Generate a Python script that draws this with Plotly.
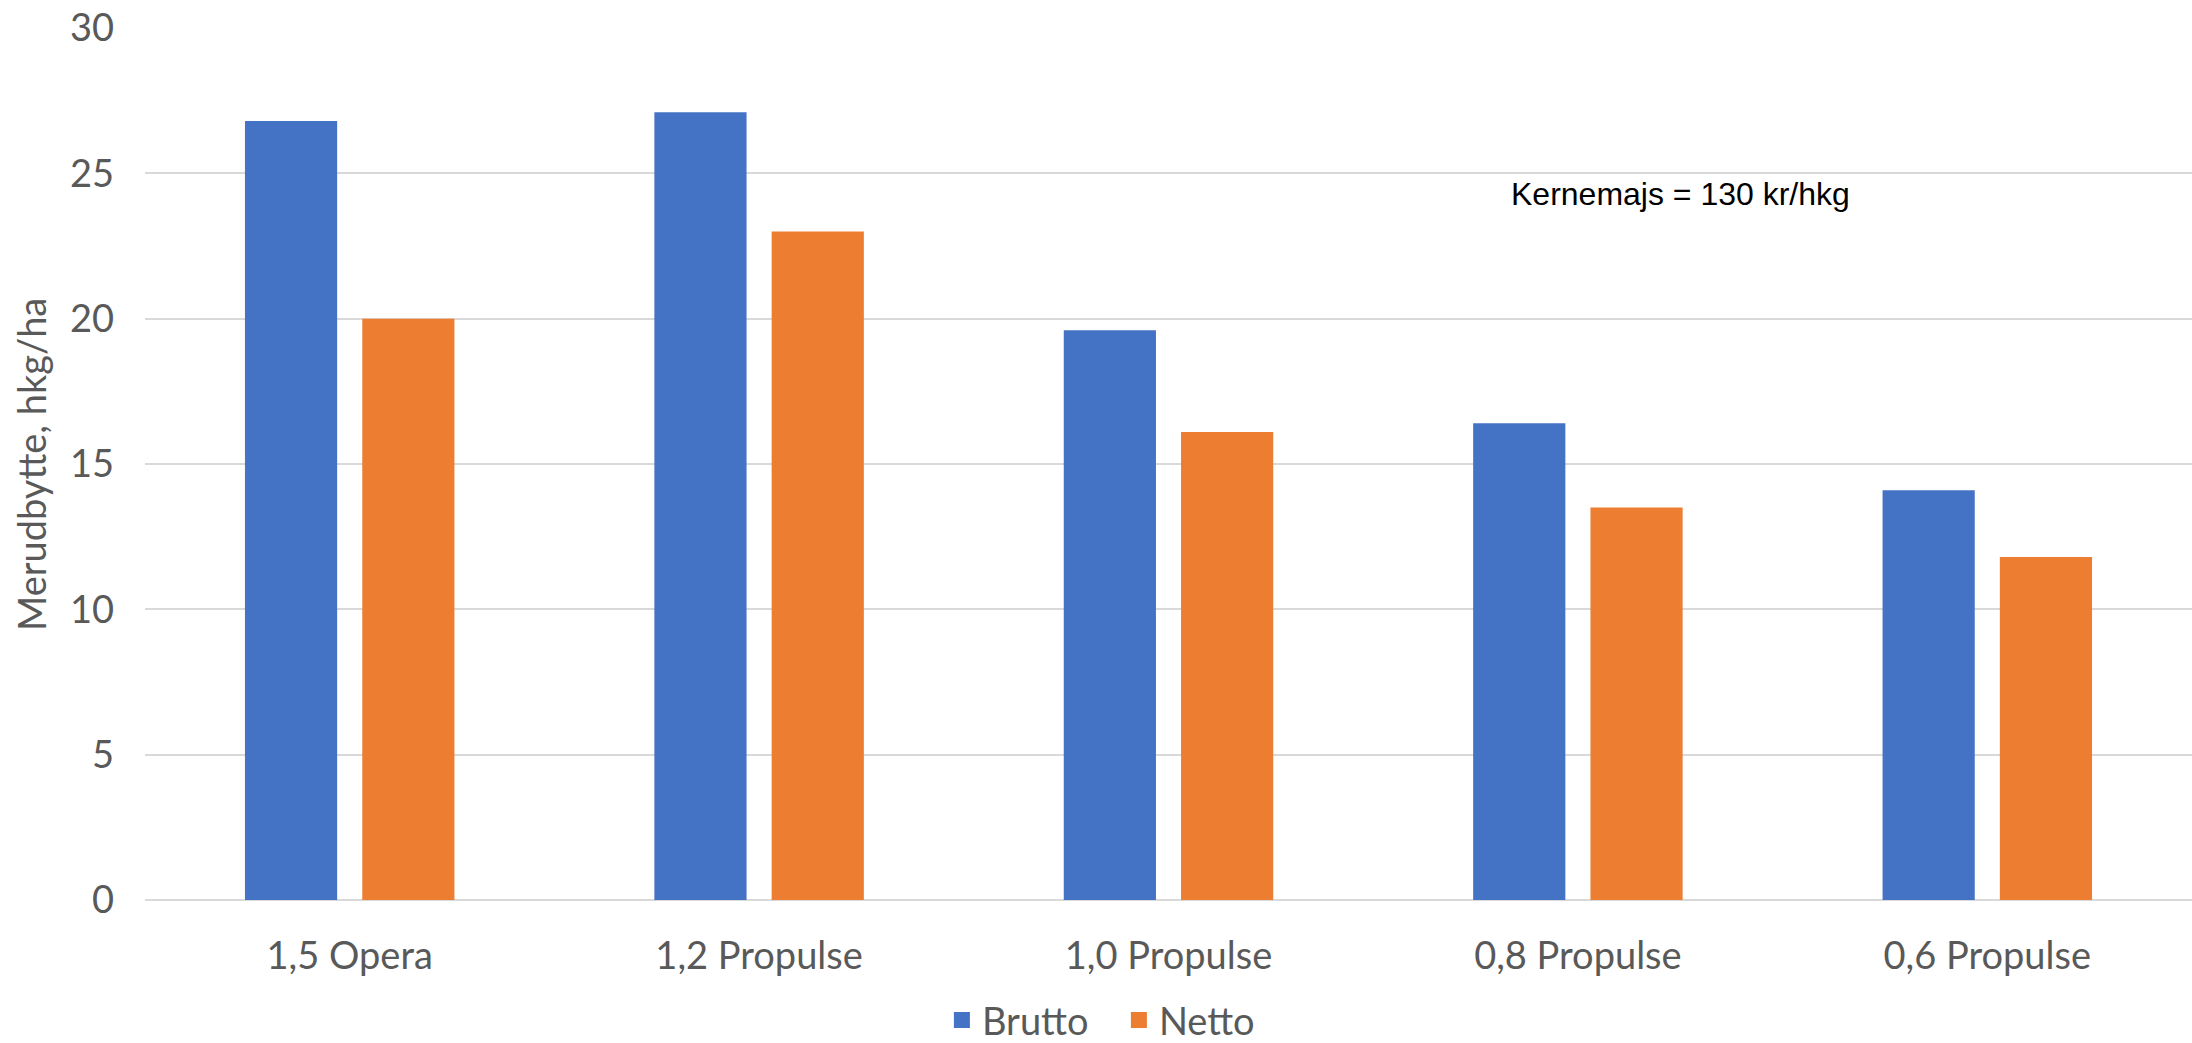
import plotly.graph_objects as go

categories = ["1,5 Opera", "1,2 Propulse", "1,0 Propulse", "0,8 Propulse", "0,6 Propulse"]
brutto = [26.8, 27.1, 19.6, 16.4, 14.1]
netto = [20.0, 23.0, 16.1, 13.5, 11.8]
y_ticks = [0, 5, 10, 15, 20, 25, 30]
series_names = ["Brutto", "Netto"]
note_text = "Kernemajs = 130 kr/hkg"
y_title = "Merudbytte, hkg/ha"

BLUE = "#4472C4"
ORANGE = "#ED7D31"
GREY = "#595959"
FONT = "Lato"
FS = 38

fig = go.Figure()
fig.add_trace(go.Bar(name=series_names[0], x=categories, y=brutto, marker_color=BLUE,
                     marker_line_width=0, showlegend=False))
fig.add_trace(go.Bar(name=series_names[1], x=categories, y=netto, marker_color=ORANGE,
                     marker_line_width=0, showlegend=False))
# legend-only entries with larger square swatches
for nm, col in zip(series_names, [BLUE, ORANGE]):
    fig.add_trace(go.Scatter(name=nm, x=[None], y=[None], mode="markers",
                             marker=dict(symbol="square", size=24, color=col),
                             showlegend=True, hoverinfo="skip"))

fig.update_layout(
    width=2192, height=1043,
    margin=dict(l=145, r=0, t=28, b=143, autoexpand=False),
    paper_bgcolor="white", plot_bgcolor="white",
    barmode="group", bargap=0.427, bargroupgap=0.214,
    font=dict(family=FONT, size=FS, color=GREY),
    showlegend=True,
    legend=dict(orientation="h", x=0.3893, xanchor="left", y=-0.138, yanchor="middle",
                font=dict(family=FONT, size=FS, color=GREY), itemwidth=30,
                entrywidth=132, entrywidthmode="pixels",
                itemsizing="trace", traceorder="normal"),
    xaxis=dict(showgrid=False, showline=False, ticks="", zeroline=False,
               tickfont=dict(family=FONT, size=FS, color=GREY), ticklabelstandoff=30),
    yaxis=dict(range=[0, 30], tickvals=y_ticks, showgrid=True, gridcolor="#D9D9D9",
               gridwidth=2, zeroline=True, zerolinecolor="#D9D9D9", zerolinewidth=2,
               showline=False, ticks="", ticklabelstandoff=30,
               tickfont=dict(family=FONT, size=FS, color=GREY)),
    annotations=[
        dict(text=y_title, xref="paper", yref="paper", x=-0.0557, y=0.5,
             xanchor="center", yanchor="middle", textangle=-90, showarrow=False,
             font=dict(family=FONT, size=FS, color=GREY)),
        dict(text=note_text, xref="paper", yref="paper", x=0.750, y=0.81,
             xanchor="center", yanchor="middle", showarrow=False,
             font=dict(family="Liberation Sans", size=32, color="black")),
    ],
)

fig.write_html("out.html", config={"displayModeBar": False},
               post_script="document.body.style.margin='0';document.body.style.overflow='hidden';")
